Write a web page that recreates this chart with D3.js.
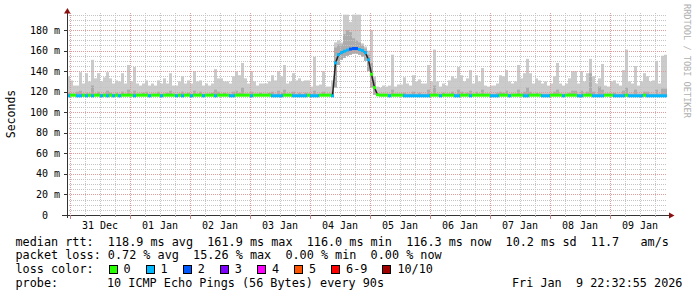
<!DOCTYPE html>
<html><head><meta charset="UTF-8"><title>SmokePing</title>
<style>
  body { margin: 0; background: #fff; }
  svg { display: block; font-family: 'DejaVu Sans Mono', monospace; }
</style>
</head>
<body>
<svg id="chart" width="697" height="297"></svg>
<script src="https://d3js.org/d3.v7.min.js"></script>
<script>
// one sample every 72 minutes, 200 samples over the 10 days shown
const binStart = Date.UTC(2025, 11, 30, 22, 48);
const binMinutes = 72;

// median rtt (ms)
const medianRtt = [
  116,116.6,116.6,116,116,116.6,116,116.6,116,116.6, 116.6,116,116.6,116,116.6,116,116.6,116,116.6,116.6,
  116.6,116.6,116,116.6,116.6,116.6,116.6,116,116.6,116.6, 116.6,116,116.6,116.6,116.6,116.6,116,116.6,116,116.6,
  116.6,116,116.6,116.6,116.6,116,116.6,116.6,116.6,116, 116.6,116.6,116.6,116.6,116,116,116.6,116.6,116.6,116.6,
  116.6,116,116.6,116.6,116.6,116.6,116.6,116.6,116,116, 116,116,116.6,116.6,116.6,116,116,116,116,116,
  116.6,116,116,116,116.6,116.6,116.6,116.6,116,148, 156,158,159.5,160.5,161.5,162,162,161,160,158,
  151,137,124,117,116.6,116.6,116.6,116,116.6,116.6, 116.6,116.6,116,116,116,116,116,116,116,116,
  116,116.6,116.6,116.6,116,116.6,116.6,116.6,116.6,116, 116,116.6,116.6,116.6,116,116.6,116.6,116.6,116.6,116.6,
  116.6,116,116,116,116.6,116.6,116.6,116,116.6,116.6, 116.6,116.6,116,116,116.6,116.6,116.6,116.6,116,116,
  116,116.6,116.6,116.6,116.6,116,116.6,116.6,116.6,116.6, 116,116,116.6,116.6,116.6,116,116,116,116,116.6,
  116.6,116.6,116,116,116,116,116.6,116,116,116, 116,116,116.6,116,116,116,116,116,116,116
];

// lost pings out of 10
const lossCount = [
  1,0,0,1,1,0,1,0,1,0, 0,1,0,1,0,1,0,1,0,0,
  0,0,1,0,0,0,0,1,0,0, 0,1,0,0,0,0,1,0,1,0,
  0,1,0,0,0,1,0,0,0,1, 0,0,0,0,1,1,0,0,0,0,
  0,1,0,0,0,0,0,0,1,1, 1,1,0,0,0,1,1,1,1,1,
  0,1,1,1,0,0,0,0,1,1, 1,1,1,1,2,2,2,1,1,1,
  1,0,0,0,0,0,0,1,0,0, 0,0,1,1,1,1,1,1,1,1,
  1,0,0,0,1,0,0,0,0,1, 1,0,0,0,1,0,0,0,0,0,
  0,1,1,1,0,0,0,1,0,0, 0,0,1,1,0,0,0,0,1,1,
  1,0,0,0,0,1,0,0,0,0, 1,1,0,0,0,1,1,1,1,0,
  0,0,1,1,1,1,0,1,1,1, 1,1,0,1,1,1,1,1,1,1
];

// smoke: slowest ping (ms)
const smokeMax = [
  135,131,126,126,139,128,138,130,151,133, 138,130,134,139,133,128,131,130,138,128,
  146,130,144,128,126,128,131,126,128,126, 131,128,133,128,138,126,126,130,135,128,
  131,128,140,130,131,126,128,126,128,142, 133,133,130,130,128,135,140,136,148,133,
  128,140,130,126,128,128,128,130,136,131, 140,135,146,128,130,138,131,133,130,131,
  131,125,154,126,127,140,125,125,131,168, 170,168,195,195,188,195,195,195,167,164,
  160,180,135,125,124,126,125,126,156,125, 127,127,134,128,126,136,130,132,128,128,
  146,130,161,130,125,128,126,131,135,133, 144,136,130,133,141,128,136,130,143,126,
  125,126,126,128,136,135,141,130,128,130, 146,133,138,152,138,128,133,131,128,130,
  126,128,135,148,128,126,128,133,140,140, 128,140,130,138,152,135,128,133,147,126,
  125,130,131,128,126,141,161,130,128,145, 126,130,138,135,130,131,150,128,155,156
];

// smoke: upper edge of the inner pings (ms)
const smokeHi = [
  119,118,118,120,121,118,119,118,126,118, 120,118,118,121,119,118,119,118,120,118,
  122,118,121,118,118,119,120,118,118,118, 120,118,118,119,121,118,118,118,120,118,
  119,118,121,118,120,118,118,118,119,122, 120,118,119,118,118,120,121,119,124,118,
  118,120,118,118,119,118,118,119,120,118, 121,119,122,118,118,120,118,119,118,119,
  118,118,121,118,118,120,118,118,120,163, 166,166,176,180,178,172,170,168,165,162,
  156,148,131,118,118,118,118,118,122,118, 118,118,119,118,118,120,118,119,118,118,
  122,118,126,118,118,119,118,118,120,118, 122,120,118,119,121,118,120,118,122,118,
  118,118,118,119,120,119,121,118,118,118, 122,118,120,124,120,118,119,118,118,118,
  118,118,120,122,118,118,118,119,121,121, 118,121,118,120,138,120,118,125,122,118,
  118,118,119,118,118,121,124,118,118,122, 118,118,120,120,118,118,122,118,123,123
];

// smoke: fastest ping (ms)
const smokeLo = [
  116,116,116,116,116,116,116,116,116,116, 116,116,116,116,116,116,116,116,116,116,
  116,116,116,116,116,116,116,116,116,116, 116,116,116,116,116,116,116,116,116,116,
  116,116,116,116,116,116,116,116,116,116, 116,116,116,116,116,116,116,116,116,116,
  116,116,116,116,116,116,116,116,116,116, 116,116,116,116,116,116,116,116,116,116,
  116,116,116,116,116,116,116,116,116,124, 146,151,153,155,156,157,157,156,154,150,
  140,124,117,116,116,116,116,116,116,116, 116,116,116,116,116,116,116,116,116,116,
  116,116,116,116,116,116,116,116,116,116, 116,116,116,116,116,116,116,116,116,116,
  116,116,116,116,116,116,116,116,116,116, 116,116,116,116,116,116,116,116,116,116,
  116,116,116,116,116,116,116,116,116,116, 116,116,116,116,116,116,116,116,116,116,
  116,116,116,116,116,116,116,116,116,116, 116,116,116,116,116,116,116,116,116,116
];

const yMajor = [0, 20, 40, 60, 80, 100, 120, 140, 160, 180];
const lossLabels = ["0", "1", "2", "3", "4", "5", "6-9", "10/10"];
const lossColors = ["#26ff00", "#00b8ff", "#0059ff", "#7e00ff", "#ff00ff", "#ff5500", "#ff0000", "#a10000"];

const legendRows = [
  "median rtt:  118.9 ms avg  161.9 ms max  116.0 ms min  116.3 ms now  10.2 ms sd  11.7   am/s",
  "packet loss: 0.72 % avg  15.26 % max  0.00 % min  0.00 % now"
];
const probeText = "10 ICMP Echo Pings (56 Bytes) every 90s";
const stampText = "Fri Jan  9 22:32:55 2026";

// keep runs of spaces
const keep = s => s.replace(/ /g, "\u00a0");

const svg = d3.select("#chart");
svg.append("rect").attr("width", 697).attr("height", 297).attr("fill", "#fff");

const x = d3.scaleUtc()
  .domain([new Date(binStart), new Date(binStart + 200 * binMinutes * 60000)])
  .range([67, 667]);
const y = d3.scaleLinear().domain([0, 196.6]).range([215, 13]);

const bins = medianRtt.map((m, i) => ({
  t0: new Date(binStart + i * binMinutes * 60000),
  t1: new Date(binStart + (i + 1) * binMinutes * 60000),
  med: m, loss: lossCount[i], max: smokeMax[i], hi: smokeHi[i], lo: smokeLo[i]
}));

// smoke
svg.append("g").selectAll("rect").data(bins).join("rect")
  .attr("x", d => x(d.t0)).attr("width", d => x(d.t1) - x(d.t0))
  .attr("y", d => y(d.max)).attr("height", d => y(d.lo) - y(d.max))
  .attr("fill", "#cbcbcb");
svg.append("g").selectAll("rect").data(bins).join("rect")
  .attr("x", d => x(d.t0)).attr("width", d => x(d.t1) - x(d.t0))
  .attr("y", d => y(d.hi)).attr("height", d => y(d.lo) - y(d.hi))
  .attr("fill", "#acacac");

// grid
const grid = svg.append("g").attr("shape-rendering", "crispEdges").attr("stroke-dasharray", "1,1");
const [d0, d1] = x.domain();
d3.utcHour.every(6).range(d0, d1).forEach(t => {
  const px = Math.round(x(t)) + 0.5;
  const major = t.getUTCHours() === 0;
  grid.append("line").attr("x1", px).attr("x2", px).attr("y1", 13).attr("y2", 215)
    .attr("stroke", major ? "#e39a9a" : "#c4c4c4");
});
d3.range(5, 200, 5).forEach(v => {
  const py = Math.round(y(v)) + 0.5;
  grid.append("line").attr("x1", 67).attr("x2", 667).attr("y1", py).attr("y2", py)
    .attr("stroke", v % 20 === 0 ? "#e39a9a" : "#c4c4c4");
});

// median
const line = d3.line().x(d => (x(d.t0) + x(d.t1)) / 2).y(d => y(d.med));
svg.append("path").datum(bins).attr("d", line)
  .attr("fill", "none").attr("stroke", "#222").attr("stroke-width", 1.5);
svg.append("g").selectAll("rect").data(bins).join("rect")
  .attr("x", d => x(d.t0)).attr("width", d => x(d.t1) - x(d.t0))
  .attr("y", d => y(d.med) - 1.5).attr("height", 3)
  .attr("fill", d => lossColors[d.loss]);

// axes
const axis = svg.append("g").attr("shape-rendering", "crispEdges").attr("stroke", "#333");
axis.append("line").attr("x1", 67.5).attr("x2", 67.5).attr("y1", 218).attr("y2", 12);
axis.append("line").attr("x1", 62).attr("x2", 670).attr("y1", 215.5).attr("y2", 215.5);
yMajor.forEach(v => {
  const py = Math.round(y(v)) + 0.5;
  axis.append("line").attr("x1", 64).attr("x2", 67).attr("y1", py).attr("y2", py);
});
d3.utcHour.every(6).range(d0, d1).forEach(t => {
  const px = Math.round(x(t)) + 0.5;
  axis.append("line").attr("x1", px).attr("x2", px).attr("y1", 215)
    .attr("y2", t.getUTCHours() === 0 ? 219 : 217)
    .attr("stroke", t.getUTCHours() === 0 ? "#d08080" : "#999");
});
svg.append("path").attr("d", "M64,13.5L70.5,13.5L67.5,8Z").attr("fill", "#8b1010");
svg.append("path").attr("d", "M669,212.5L669,218.5L674.5,215.5Z").attr("fill", "#8b1010");

// tick labels
svg.append("g").selectAll("text").data(yMajor).join("text")
  .attr("x", d => d === 0 ? 48 : 60).attr("y", d => y(d) + 3.5)
  .attr("text-anchor", "end").attr("font-size", 10).attr("fill", "#000")
  .text(d => d === 0 ? "0" : keep(d + " m"));
const days = d3.utcDay.range(d0, d1).map(d => d3.utcHour.offset(d, 12)).filter(d => d < d1);
svg.append("g").selectAll("text").data(days).join("text")
  .attr("x", d => x(d)).attr("y", 228.5)
  .attr("text-anchor", "middle").attr("font-size", 10).attr("fill", "#000")
  .text(d => keep(d3.utcFormat("%d %b")(d)));

svg.append("text").attr("transform", "translate(15,114) rotate(-90)")
  .attr("text-anchor", "middle").attr("font-size", 11.5).attr("fill", "#000").text("Seconds");
svg.append("text").attr("transform", "translate(684,4) rotate(90)")
  .attr("font-size", 8.6).attr("fill", "#b0b0b0").text(keep("RRDTOOL / TOBI OETIKER"));

// legend
const legend = svg.append("g").attr("font-size", 11.8).attr("fill", "#000");
legendRows.forEach((s, i) => {
  legend.append("text").attr("x", 15.5).attr("y", 245.5 + i * 13.7).text(keep(s));
});
legend.append("text").attr("x", 15.5).attr("y", 273).text(keep("loss color:"));
let bx = 108.5;
lossLabels.forEach((lab, i) => {
  legend.append("rect").attr("x", bx + 0.5).attr("y", 265.5).attr("width", 8).attr("height", 8)
    .attr("fill", lossColors[i]).attr("stroke", "#000").attr("shape-rendering", "crispEdges");
  legend.append("text").attr("x", bx + 15).attr("y", 273).text(lab);
  bx += 15 + lab.length * 7.1 + 15;
});
legend.append("text").attr("x", 15.5).attr("y", 286.5).text("probe:");
legend.append("text").attr("x", 107).attr("y", 286.5).text(keep(probeText));
legend.append("text").attr("x", 512).attr("y", 286.5).text(keep(stampText));
</script>
</body></html>
